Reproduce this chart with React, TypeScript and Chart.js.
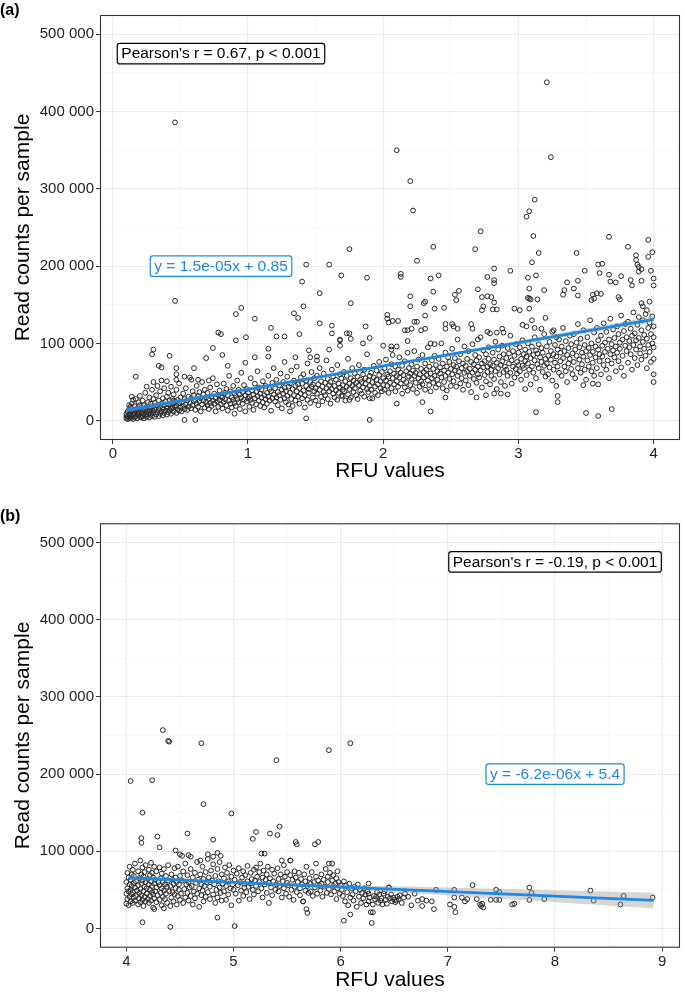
import React, { useEffect, useRef } from 'react';
import { Chart, registerables } from 'chart.js';
Chart.register(...registerables);

const FONT = '"Liberation Sans", Arial, Helvetica, sans-serif';
const BLUE = '#1E88E5';

type Pair = [number, number];

// ---------- Panel (a): RFU values (x) vs read counts per sample in thousands (y) ----------
const xMajorA = [0, 1, 2, 3, 4];
const xMinorA = [0.5, 1.5, 2.5, 3.5];
const yMajorK = [0, 100, 200, 300, 400, 500];
const yMinorK = [50, 150, 250, 350, 450];

const sparseA: Pair[] = [
  [0.46,386],[3.21,438],[2.10,350],[2.20,310],[2.22,272],[3.24,341],[3.12,286],[3.08,271],[3.06,264],[2.72,245],[3.11,239],[3.67,238],[3.96,234],[2.37,225],[3.81,225],[1.75,222],[2.68,222],[3.15,217],[3.43,217],[3.99,218],[3.96,212],[2.25,207],[3.10,205],[3.59,202],[3.62,203],[3.87,214],[3.87,208],[3.88,202],[3.89,199],[3.89,193],[3.91,196],[2.82,197],[2.94,194],[3.49,194],[3.98,194],[1.69,188],[1.88,185],[2.13,190],[2.13,186],[2.41,188],[2.35,184],[3.07,185],[3.13,188],[2.82,182],[2.82,178],[2.77,186],[3.60,191],[3.67,189],[3.68,180],[3.72,179],[3.76,187],[3.83,182],[3.84,175],[3.91,181],[4.00,184],[4.00,175],[3.36,179],[3.44,181],[3.41,171],[3.19,169],[3.08,171],[3.34,169],[3.33,163],[2.37,167],[2.53,163],[2.56,168],[2.54,156],[2.70,170],[2.77,161],[2.80,160],[2.73,160],[1.76,152],[2.20,161],[2.20,148],[3.44,162],[3.07,159],[3.08,158],[3.09,157],[3.14,157],[3.55,163],[3.58,165],[3.61,164],[3.54,156],[3.56,158],[3.74,160],[3.75,157],[3.97,154],[3.91,152],[3.92,148],[3.95,143],[2.31,154],[2.30,152],[2.38,145],[2.31,136],[2.45,146],[2.82,153],[2.81,144],[2.84,144],[2.74,148],[2.73,143],[2.97,145],[3.01,143],[3.08,145],[2.03,137],[2.03,132],[2.04,127],[2.07,129],[2.11,129],[1.87,122],[1.75,113],[1.76,106],[1.68,105],[1.90,107],[1.85,100],[2.16,117],[2.18,117],[2.21,119],[2.31,119],[2.18,103],[2.00,97],[2.06,96],[2.10,96],[2.06,92],[2.35,100],[2.38,99],[2.46,119],[2.46,125],[2.51,125],[2.52,122],[2.55,119],[2.25,128],[2.23,128],[2.28,117],[2.65,125],[2.66,119],[2.70,105],[2.77,115],[2.79,113],[2.84,114],[2.88,119],[2.89,114],[3.03,124],[3.06,122],[3.10,130],[3.12,120],[3.17,119],[3.20,133],[3.26,117],[3.28,108],
  [0.46,155],[0.91,138],[0.95,146],[1.05,132],[0.985,108],[0.91,104],[0.78,114],[0.80,112],[0.74,94],[0.81,85],[0.69,81],[0.30,92],[0.29,86],[0.42,84],[0.17,57],[0.34,71],[0.36,69],[0.47,68],[0.47,60],[0.47,53],[1.34,139],[1.37,133],[1.38,112],[1.43,202],[1.40,180],[1.41,148],[1.60,202],[1.53,165],[1.62,123],[1.62,113],[1.53,126],[1.68,104],[1.73,113],[1.17,120],[1.21,109],[1.27,109],[1.15,93],[1.15,83],[1.05,82],[1.35,82],[1.45,91],[1.60,92],[1.68,97],[1.27,76],[1.46,82],[1.51,83],[1.51,78],[0.98,75],[0.85,71],[0.60,68],[0.53,57],[0.58,53],[0.63,53],[0.71,52],[1.31,12],[1.43,3],[0.61,1],[0.53,1],[0.90,9],[0.43,16],[0.45,26],
  [1.90,1],[2.35,12],[3.13,11],[3.50,10],[3.59,6],[3.69,15],[3.29,32],[3.29,24],[2.10,22],[2.29,24],[2.46,30],[2.69,30],[2.76,33],[2.82,35],[2.87,35],[2.92,34],[3.05,41],[3.48,46],[3.55,48],[3.59,47],[4.00,50],[1.70,32],[1.75,27],[1.90,29]
];

const lowBandA: Pair[] = [
  [0.10,3],[0.10,6],[0.10,9],[0.11,2],[0.11,5],[0.11,12],[0.12,4],[0.12,8],[0.12,15],[0.13,3],[0.13,7],[0.13,10],[0.13,18],[0.14,5],[0.14,12],[0.14,22],[0.15,2],[0.15,8],[0.15,14],[0.16,4],[0.16,10],[0.16,19],[0.17,6],[0.17,13],[0.17,28],[0.18,3],[0.18,9],[0.18,16],[0.19,7],[0.19,11],[0.19,24],[0.20,5],[0.20,14],[0.20,20],[0.20,32],[0.14,31],[0.12,20],[0.15,27],
  [0.21,4],[0.21,10],[0.21,17],[0.22,6],[0.22,13],[0.22,26],[0.23,3],[0.23,9],[0.23,20],[0.24,7],[0.24,15],[0.24,36],[0.25,5],[0.25,11],[0.25,18],[0.25,44],[0.26,8],[0.26,14],[0.26,24],[0.27,4],[0.27,12],[0.27,30],[0.28,9],[0.28,17],[0.28,22],[0.29,6],[0.29,13],[0.29,40],[0.30,10],[0.30,19],[0.30,28],[0.30,50],
  [0.31,5],[0.31,14],[0.31,23],[0.32,8],[0.32,17],[0.32,33],[0.33,11],[0.33,20],[0.33,45],[0.34,6],[0.34,15],[0.34,26],[0.35,9],[0.35,18],[0.35,38],[0.36,12],[0.36,22],[0.36,52],[0.37,7],[0.37,16],[0.37,29],[0.38,10],[0.38,20],[0.38,42],[0.39,13],[0.39,25],[0.40,8],[0.40,17],[0.40,31],[0.40,51],
  [0.41,11],[0.41,21],[0.41,36],[0.42,14],[0.42,26],[0.43,9],[0.43,19],[0.43,44],[0.44,16],[0.44,28],[0.45,12],[0.45,22],[0.45,34],[0.46,18],[0.46,25],[0.47,10],[0.47,20],[0.47,40],[0.48,15],[0.48,27],[0.49,13],[0.49,23],[0.49,48],[0.50,17],[0.50,30],
  [0.51,12],[0.51,24],[0.52,19],[0.52,35],[0.53,15],[0.53,28],[0.54,21],[0.54,42],[0.55,14],[0.55,26],[0.56,18],[0.56,31],[0.57,23],[0.57,56],[0.58,16],[0.58,29],[0.59,20],[0.59,38],[0.60,25],[0.60,33],
  [0.61,14],[0.61,27],[0.62,22],[0.62,45],[0.63,18],[0.63,32],[0.64,25],[0.64,37],[0.65,12],[0.65,29],[0.66,21],[0.66,50],[0.67,26],[0.67,34],[0.68,17],[0.68,40],[0.69,24],[0.69,30],[0.70,20],[0.70,36],
  [0.71,15],[0.71,28],[0.72,23],[0.72,43],[0.73,31],[0.73,19],[0.74,26],[0.74,55],[0.75,22],[0.75,35],[0.76,12],[0.76,29],[0.77,25],[0.77,47],[0.78,18],[0.78,33],[0.79,27],[0.79,39],[0.80,21],[0.80,31],
  [0.81,16],[0.81,30],[0.82,24],[0.82,48],[0.83,28],[0.83,36],[0.84,20],[0.84,41],[0.85,13],[0.85,33],[0.86,26],[0.86,58],[0.87,22],[0.87,38],[0.88,30],[0.88,17],[0.89,27],[0.89,45],[0.90,23],[0.90,35],
  [0.91,19],[0.91,32],[0.92,28],[0.92,52],[0.93,24],[0.93,40],[0.94,15],[0.94,34],[0.95,30],[0.95,62],[0.96,22],[0.96,37],[0.97,27],[0.97,46],[0.98,33],[0.98,12],[0.99,25],[0.99,41],[1.00,29],[1.00,36]
];

const midBandA: Pair[] = [
  [1.01,18],[1.01,31],[1.02,27],[1.02,55],[1.03,23],[1.03,39],[1.04,34],[1.04,14],[1.05,29],[1.05,48],[1.06,21],[1.06,37],[1.07,32],[1.07,64],[1.08,26],[1.08,43],[1.09,35],[1.09,19],[1.10,30],[1.10,40],
  [1.11,24],[1.11,51],[1.12,33],[1.12,17],[1.13,28],[1.13,45],[1.14,36],[1.14,22],[1.15,31],[1.15,58],[1.16,26],[1.16,41],[1.17,38],[1.17,13],[1.18,29],[1.18,49],[1.19,34],[1.19,68],[1.20,25],[1.20,42],
  [1.21,30],[1.21,53],[1.22,37],[1.22,20],[1.23,33],[1.23,46],[1.24,27],[1.24,61],[1.25,40],[1.25,16],[1.26,35],[1.26,50],[1.27,29],[1.27,43],[1.28,38],[1.28,24],[1.29,32],[1.29,57],[1.30,44],[1.30,21],
  [1.31,36],[1.31,48],[1.32,28],[1.32,65],[1.33,41],[1.33,19],[1.34,33],[1.34,52],[1.35,45],[1.35,26],[1.36,38],[1.36,70],[1.37,31],[1.37,47],[1.38,42],[1.38,22],[1.39,35],[1.39,56],[1.40,48],[1.40,29],
  [1.41,39],[1.41,60],[1.42,33],[1.42,17],[1.43,45],[1.43,52],[1.44,27],[1.44,74],[1.45,41],[1.45,36],[1.46,50],[1.46,23],[1.47,44],[1.47,63],[1.48,30],[1.48,47],[1.49,38],[1.49,55],[1.50,42],[1.50,26],
  [1.51,35],[1.51,58],[1.52,47],[1.52,20],[1.53,40],[1.53,68],[1.54,31],[1.54,51],[1.55,44],[1.55,25],[1.56,37],[1.56,61],[1.57,49],[1.57,33],[1.58,42],[1.58,78],[1.59,28],[1.59,54],[1.60,46],[1.60,38],
  [1.61,50],[1.61,22],[1.62,41],[1.62,66],[1.63,35],[1.63,57],[1.64,45],[1.64,30],[1.65,53],[1.65,39],[1.66,27],[1.66,72],[1.67,48],[1.67,36],[1.68,43],[1.68,60],[1.69,32],[1.69,55],[1.70,46],[1.70,40],
  [1.71,38],[1.71,63],[1.72,51],[1.72,26],[1.73,44],[1.73,58],[1.74,34],[1.74,80],[1.75,48],[1.75,41],[1.76,55],[1.76,30],[1.77,45],[1.77,68],[1.78,37],[1.78,52],[1.79,42],[1.79,61],[1.80,49],[1.80,33],
  [1.81,57],[1.81,28],[1.82,46],[1.82,72],[1.83,39],[1.83,53],[1.84,50],[1.84,35],[1.85,60],[1.85,43],[1.86,31],[1.86,66],[1.87,48],[1.87,55],[1.88,41],[1.88,86],[1.89,52],[1.89,37],[1.90,45],[1.90,58],
  [1.91,62],[1.91,40],[1.92,50],[1.92,29],[1.93,56],[1.93,71],[1.94,44],[1.94,36],[1.95,53],[1.95,65],[1.96,47],[1.96,33],[1.97,59],[1.97,76],[1.98,42],[1.98,51],[1.99,38],[1.99,63],[2.00,55],[2.00,46]
];

const highBandA: Pair[] = [
  [2.01,68],[2.01,40],[2.02,52],[2.02,79],[2.03,45],[2.03,60],[2.04,36],[2.04,57],[2.05,64],[2.05,49],[2.06,73],[2.06,42],[2.07,55],[2.07,85],[2.08,47],[2.08,61],[2.09,38],[2.09,70],[2.10,58],[2.10,51],
  [2.11,44],[2.11,66],[2.12,56],[2.12,82],[2.13,48],[2.13,62],[2.14,35],[2.14,71],[2.15,53],[2.15,59],[2.16,77],[2.16,43],[2.17,64],[2.17,50],[2.18,39],[2.18,88],[2.19,57],[2.19,68],[2.20,46],[2.20,61],
  [2.21,73],[2.21,54],[2.22,41],[2.22,65],[2.23,58],[2.23,90],[2.24,49],[2.24,62],[2.25,36],[2.25,70],[2.26,55],[2.26,79],[2.27,44],[2.27,60],[2.28,67],[2.28,51],[2.29,85],[2.29,47],[2.30,63],[2.30,56],
  [2.31,40],[2.31,74],[2.32,59],[2.32,66],[2.33,52],[2.33,95],[2.34,46],[2.34,70],[2.35,61],[2.35,38],[2.36,78],[2.36,55],[2.37,49],[2.37,67],[2.38,84],[2.38,58],[2.39,43],[2.39,72],[2.40,64],[2.40,53],
  [2.41,47],[2.41,80],[2.42,61],[2.42,69],[2.43,56],[2.43,100],[2.44,42],[2.44,74],[2.45,65],[2.45,50],[2.46,88],[2.46,58],[2.47,70],[2.47,39],[2.48,62],[2.48,82],[2.49,54],[2.49,76],[2.50,45],[2.50,67],
  [2.51,60],[2.51,93],[2.52,72],[2.52,51],[2.53,65],[2.53,81],[2.54,44],[2.54,70],[2.55,58],[2.55,105],[2.56,77],[2.56,63],[2.57,48],[2.57,86],[2.58,68],[2.58,55],[2.59,74],[2.59,40],[2.60,62],[2.60,96],
  [2.61,71],[2.61,52],[2.62,80],[2.62,64],[2.63,46],[2.63,90],[2.64,67],[2.64,58],[2.65,76],[2.65,37],[2.66,62],[2.66,99],[2.67,54],[2.67,73],[2.68,85],[2.68,66],[2.69,49],[2.69,78],[2.70,60],[2.70,70],
  [2.71,82],[2.71,56],[2.72,65],[2.72,108],[2.73,74],[2.73,43],[2.74,69],[2.74,91],[2.75,59],[2.75,77],[2.76,51],[2.76,86],[2.77,70],[2.77,63],[2.78,95],[2.78,80],[2.79,47],[2.79,73],[2.80,66],[2.80,58],
  [2.81,88],[2.81,71],[2.82,54],[2.82,79],[2.83,64],[2.83,102],[2.84,75],[2.84,41],[2.85,68],[2.85,92],[2.86,60],[2.86,83],[2.87,72],[2.87,50],[2.88,97],[2.88,77],[2.89,63],[2.89,86],[2.90,70],[2.90,45],
  [2.91,81],[2.91,66],[2.92,58],[2.92,94],[2.93,74],[2.93,87],[2.94,62],[2.94,110],[2.95,78],[2.95,48],[2.96,70],[2.96,90],[2.97,84],[2.97,56],[2.98,67],[2.98,99],[2.99,76],[2.99,61],[3.00,88],[3.00,72]
];

const topBandA: Pair[] = [
  [3.01,64],[3.01,95],[3.02,80],[3.02,53],[3.03,71],[3.03,104],[3.04,86],[3.04,68],[3.05,77],[3.05,92],[3.06,59],[3.06,83],[3.07,100],[3.07,74],[3.08,66],[3.08,89],[3.09,47],[3.09,81],[3.10,96],[3.10,70],
  [3.11,85],[3.11,62],[3.12,78],[3.12,108],[3.13,91],[3.13,55],[3.14,73],[3.14,87],[3.15,68],[3.15,99],[3.16,82],[3.16,40],[3.17,94],[3.17,76],[3.18,63],[3.18,88],[3.19,71],[3.19,112],[3.20,80],[3.20,57],
  [3.21,96],[3.21,74],[3.22,84],[3.22,60],[3.23,102],[3.23,69],[3.24,90],[3.24,79],[3.25,52],[3.25,115],[3.26,86],[3.26,66],[3.27,75],[3.27,98],[3.28,83],[3.28,45],[3.29,92],[3.29,70],[3.30,105],[3.30,62],
  [3.31,88],[3.31,77],[3.32,58],[3.32,96],[3.33,81],[3.33,120],[3.34,70],[3.34,90],[3.35,64],[3.35,103],[3.36,85],[3.36,50],[3.37,94],[3.37,74],[3.38,110],[3.38,80],[3.39,67],[3.39,99],[3.40,87],[3.40,60],
  [3.41,76],[3.41,112],[3.42,92],[3.42,55],[3.43,84],[3.43,101],[3.44,68],[3.44,125],[3.45,95],[3.45,79],[3.46,62],[3.46,106],[3.47,88],[3.47,73],[3.48,117],[3.48,83],[3.49,66],[3.49,98],[3.50,90],[3.50,53],
  [3.51,78],[3.51,108],[3.52,94],[3.52,70],[3.53,85],[3.53,130],[3.54,64],[3.54,100],[3.55,89],[3.55,75],[3.56,114],[3.56,58],[3.57,96],[3.57,82],[3.58,68],[3.58,120],[3.59,92],[3.59,104],[3.60,77],[3.60,86],
  [3.61,110],[3.61,60],[3.62,97],[3.62,83],[3.63,72],[3.63,126],[3.64,101],[3.64,89],[3.65,66],[3.65,115],[3.66,93],[3.66,78],[3.67,105],[3.67,55],[3.68,86],[3.68,132],[3.69,99],[3.69,74],[3.70,118],[3.70,91],
  [3.71,82],[3.71,107],[3.72,96],[3.72,64],[3.73,122],[3.73,88],[3.74,77],[3.74,112],[3.75,101],[3.75,93],[3.76,69],[3.76,136],[3.77,105],[3.77,84],[3.78,116],[3.78,58],[3.79,97],[3.79,125],[3.80,90],[3.80,108],
  [3.81,75],[3.81,128],[3.82,103],[3.82,95],[3.83,86],[3.83,119],[3.84,110],[3.84,66],[3.85,98],[3.85,140],[3.86,81],[3.86,113],[3.87,104],[3.87,92],[3.88,124],[3.88,72],[3.89,107],[3.89,134],[3.90,96],[3.90,87],
  [3.91,117],[3.91,79],[3.92,102],[3.92,130],[3.93,93],[3.93,111],[3.94,84],[3.94,138],[3.95,106],[3.95,68],[3.96,120],[3.96,98],[3.97,89],[3.97,127],[3.98,112],[3.98,76],[3.99,100],[3.99,135],[4.00,95],[4.00,122],[4.00,60],[4.00,80],[4.00,108]
];

// fitted line (a) and its confidence band
const fitXA = [0.1, 4.0];
const fitYA = [13.8, 131.0];
const ciXA = [0.1, 1, 2, 3, 4.0];
const ciLoA = [10.5, 38.8, 69.3, 98.4, 127.0];
const ciHiA = [17.1, 42.8, 72.5, 103.4, 135.0];

// ---------- Panel (b) ----------
const xMajorB = [4, 5, 6, 7, 8, 9];
const xMinorB = [4.5, 5.5, 6.5, 7.5, 8.5];

const sparseB: Pair[] = [
  [4.34,257],[4.39,243],[4.40,242],[4.70,240],[5.40,218],[5.89,231],[6.09,240],[4.04,191],[4.24,192],[4.15,150],[4.72,161],[4.98,149],[4.14,117],[4.14,111],[4.29,119],[4.31,105],[4.57,123],[4.81,115],[4.46,101],[4.50,96],[4.52,94],[4.58,95],[4.60,93],[4.69,88],[4.76,96],[4.81,93],[4.85,98],[4.88,94],[5.18,116],[5.21,125],[5.34,123],[5.41,121],[5.43,132],[5.26,97],[5.29,97],[5.58,112],[5.59,109],[5.76,109],[5.79,112],[5.53,88],[5.45,88],[5.89,84],[5.92,84],[5.97,74],[4.15,8],[4.41,2],[4.85,14],[5.01,3],[5.68,25],[5.69,20],[6.03,10],[6.09,18],[5.65,35],[6.26,58],[6.45,53],[4.26,25],
  [7.23,56],[7.76,53],[7.78,46],[8.33,49],[8.64,42],[8.91,40],[8.61,31],[8.36,36],[7.90,38],[7.76,37],[7.45,50],[7.48,47],[7.45,37],[7.48,37],[7.40,37],[7.60,31],[7.62,32],[7.06,50],[7.06,40],[7.06,28],[7.07,21],[7.02,31],[7.13,40],[7.16,35],[7.18,38],[7.27,38],[7.30,31],[7.31,29],[7.33,27],[7.32,32]
];

const denseB: Pair[] = [
  [4.00,32],[4.00,45],[4.00,60],[4.01,38],[4.01,52],[4.01,72],[4.02,30],[4.02,48],[4.02,66],[4.03,41],[4.03,57],[4.03,80],[4.04,35],[4.04,50],[4.04,63],[4.05,44],[4.05,70],[4.05,55],[4.06,33],[4.06,47],[4.06,76],[4.07,40],[4.07,59],[4.07,68],[4.08,36],[4.08,53],[4.08,84],[4.09,42],[4.09,61],[4.10,49],
  [4.11,31],[4.11,56],[4.11,74],[4.12,39],[4.12,46],[4.12,65],[4.13,34],[4.13,51],[4.13,88],[4.14,43],[4.14,58],[4.14,70],[4.15,37],[4.15,62],[4.15,79],[4.16,29],[4.16,48],[4.16,67],[4.17,41],[4.17,54],[4.17,73],[4.18,35],[4.18,60],[4.18,82],[4.19,45],[4.19,52],[4.20,38],[4.20,64],
  [4.21,33],[4.21,57],[4.21,76],[4.22,42],[4.22,50],[4.22,69],[4.23,36],[4.23,61],[4.23,85],[4.24,47],[4.24,55],[4.24,72],[4.25,27],[4.25,44],[4.25,66],[4.26,39],[4.26,58],[4.26,80],[4.27,48],[4.27,63],[4.28,34],[4.28,53],[4.28,74],[4.29,43],[4.30,60],
  [4.31,37],[4.31,56],[4.31,79],[4.32,46],[4.32,65],[4.33,30],[4.33,52],[4.33,71],[4.34,41],[4.34,60],[4.35,26],[4.35,49],[4.35,77],[4.36,38],[4.36,57],[4.37,45],[4.37,68],[4.38,33],[4.38,54],[4.39,62],[4.39,82],[4.40,48],
  [4.41,29],[4.41,55],[4.42,40],[4.42,70],[4.43,47],[4.43,63],[4.44,35],[4.44,58],[4.45,78],[4.45,44],[4.46,52],[4.46,66],[4.47,31],[4.47,60],[4.48,42],[4.48,80],[4.49,50],[4.49,57],[4.50,37],[4.50,68],
  [4.51,45],[4.52,62],[4.53,33],[4.53,74],[4.54,51],[4.55,40],[4.55,84],[4.56,57],[4.57,46],[4.57,69],[4.58,36],[4.58,60],[4.59,53],[4.60,42],[4.60,77],
  [4.61,55],[4.62,31],[4.62,66],[4.63,48],[4.64,72],[4.64,39],[4.65,59],[4.66,86],[4.66,45],[4.67,63],[4.68,28],[4.68,52],[4.69,70],[4.70,43],[4.70,57],
  [4.71,80],[4.71,49],[4.72,35],[4.72,64],[4.73,55],[4.74,73],[4.74,41],[4.75,60],[4.76,90],[4.76,47],[4.77,66],[4.78,38],[4.78,54],[4.79,75],[4.80,62],
  [4.81,44],[4.81,83],[4.82,57],[4.83,33],[4.83,68],[4.84,50],[4.85,77],[4.85,40],[4.86,61],[4.87,53],[4.87,86],[4.88,46],[4.89,70],[4.89,36],[4.90,58],
  [4.91,65],[4.91,48],[4.92,79],[4.93,55],[4.93,37],[4.94,72],[4.95,61],[4.95,44],[4.96,82],[4.97,52],[4.98,67],[4.98,30],[4.99,57],[5.00,75],[5.00,50]
];

const tailB: Pair[] = [
  [5.01,63],[5.02,45],[5.03,71],[5.04,56],[5.05,36],[5.05,78],[5.06,60],[5.07,49],[5.08,66],[5.09,74],[5.09,42],[5.10,58],[5.10,53],
  [5.11,69],[5.12,47],[5.13,61],[5.13,81],[5.14,54],[5.15,38],[5.16,72],[5.16,58],[5.17,64],[5.18,50],[5.19,76],[5.19,44],[5.20,62],
  [5.21,55],[5.21,79],[5.22,67],[5.23,48],[5.24,73],[5.24,60],[5.25,84],[5.26,52],[5.27,66],[5.27,40],[5.28,75],[5.29,57],[5.30,63],
  [5.31,70],[5.31,46],[5.32,80],[5.33,59],[5.33,33],[5.34,65],[5.35,53],[5.36,76],[5.36,43],[5.37,61],[5.38,71],[5.39,50],[5.40,57],
  [5.41,78],[5.42,48],[5.42,64],[5.43,55],[5.44,70],[5.45,40],[5.46,61],[5.47,82],[5.47,52],[5.48,67],[5.49,45],[5.50,59],[5.50,73],
  [5.51,56],[5.52,41],[5.53,69],[5.53,88],[5.54,50],[5.55,63],[5.56,37],[5.57,74],[5.57,54],[5.58,66],[5.59,47],[5.60,60],
  [5.61,72],[5.62,52],[5.62,43],[5.63,64],[5.64,57],[5.65,35],[5.66,70],[5.67,49],[5.67,61],[5.68,80],[5.69,55],[5.70,46],
  [5.71,65],[5.72,48],[5.72,58],[5.73,73],[5.74,42],[5.75,60],[5.76,53],[5.77,67],[5.77,84],[5.78,45],[5.79,62],[5.80,56],
  [5.81,49],[5.82,70],[5.82,58],[5.83,41],[5.84,63],[5.85,54],[5.86,77],[5.87,46],[5.88,60],[5.88,67],[5.89,51],[5.90,72],
  [5.91,44],[5.92,62],[5.93,55],[5.93,69],[5.94,48],[5.95,58],[5.96,38],[5.96,65],[5.97,52],[5.98,60],[5.99,45],[6.00,56],
  [6.01,50],[6.02,42],[6.03,61],[6.04,35],[6.05,55],[6.06,47],[6.07,30],[6.08,58],[6.09,40],[6.10,52],
  [6.11,44],[6.12,36],[6.13,54],[6.14,48],[6.15,28],[6.16,57],[6.17,41],[6.18,50],[6.19,33],[6.20,46],
  [6.21,39],[6.22,52],[6.23,44],[6.24,31],[6.25,48],[6.26,45],[6.26,35],[6.27,40],[6.28,21],[6.29,7],[6.30,31],[6.30,21],
  [6.31,42],[6.32,38],[6.33,41],[6.34,47],[6.35,33],[6.36,44],[6.37,36],[6.38,39],[6.39,31],[6.40,45],
  [6.41,48],[6.42,37],[6.43,32],[6.44,41],[6.45,53],[6.46,39],[6.47,44],[6.48,35],[6.49,40],[6.50,37],
  [6.51,34],[6.52,36],[6.53,41],[6.54,38],[6.55,43],[6.57,33],[6.59,40],[6.60,45],
  [6.63,41],[6.66,30],[6.69,45],[6.72,36],[6.76,38],[6.76,29],[6.80,36],[6.85,35],[6.87,25],[6.89,50]
];

const fitXB = [4.02, 8.92];
const fitYB = [65.6, 36.2];
const ciXB = [4.02, 5, 6, 7, 8, 8.92];
const ciLoB = [62.3, 57.8, 51.0, 42.5, 34.0, 26.0];
const ciHiB = [68.8, 61.8, 56.5, 53.0, 49.5, 46.3];

// ---------- helpers ----------
const pts = (pairs: Pair[]) => pairs.map(([x, y]) => ({ x, y }));
const zip = (xs: number[], ys: number[]) => xs.map((x, i) => ({ x, y: ys[i] }));
const fmtK = (v: number) => (v === 0 ? '0' : `${v} 000`);

type Label = { x: number; y: number; text: string; color: string };

const annotPlugin = {
  id: 'annot',
  afterDatasetsDraw(chart: any, _args: any, opts: any) {
    const { ctx, chartArea, scales } = chart;
    ctx.save();
    ctx.strokeStyle = '#333333';
    ctx.lineWidth = 1.1;
    ctx.strokeRect(chartArea.left + 0.5, chartArea.top + 0.5, chartArea.right - chartArea.left - 1, chartArea.bottom - chartArea.top - 1);
    const labels: Label[] = opts.labels || [];
    for (const lab of labels) {
      const cx = scales.x.getPixelForValue(lab.x);
      const cy = scales.y.getPixelForValue(lab.y);
      const fs = 15.5;
      ctx.font = `${fs}px ${FONT}`;
      const tw = ctx.measureText(lab.text).width;
      const w = tw + 8;
      const h = 20.5;
      const x0 = cx - w / 2;
      const y0 = cy - h / 2;
      const r = 2.5;
      ctx.beginPath();
      ctx.moveTo(x0 + r, y0);
      ctx.lineTo(x0 + w - r, y0);
      ctx.arcTo(x0 + w, y0, x0 + w, y0 + r, r);
      ctx.lineTo(x0 + w, y0 + h - r);
      ctx.arcTo(x0 + w, y0 + h, x0 + w - r, y0 + h, r);
      ctx.lineTo(x0 + r, y0 + h);
      ctx.arcTo(x0, y0 + h, x0, y0 + h - r, r);
      ctx.lineTo(x0, y0 + r);
      ctx.arcTo(x0, y0, x0 + r, y0, r);
      ctx.closePath();
      ctx.fillStyle = '#ffffff';
      ctx.fill();
      ctx.lineWidth = 1.2;
      ctx.strokeStyle = lab.color;
      ctx.stroke();
      ctx.fillStyle = lab.color;
      ctx.textAlign = 'center';
      ctx.textBaseline = 'middle';
      ctx.fillText(lab.text, cx, cy + 0.5);
    }
    ctx.restore();
  },
};

type PanelSpec = {
  points: Pair[];
  fitX: number[]; fitY: number[];
  ciX: number[]; ciLo: number[]; ciHi: number[];
  xMajor: number[]; xMinor: number[];
  xMin: number; xMax: number;
  padTop: number; xAxisHeight: number; titleBottom: number;
  labels: Label[];
};

function makeConfig(s: PanelSpec): any {
  const xTicks = [...s.xMajor, ...s.xMinor].sort((a, b) => a - b);
  const yTicks = [...yMajorK, ...yMinorK].sort((a, b) => a - b);
  const isMajorX = (v: number) => s.xMajor.includes(v);
  const isMajorY = (v: number) => yMajorK.includes(v);
  const gridFor = (isMajor: (v: number) => boolean) => ({
    drawTicks: true,
    tickLength: 4,
    color: (c: any) => (c.tick && isMajor(c.tick.value) ? '#EBEBEB' : '#F4F4F4'),
    lineWidth: (c: any) => (c.tick && isMajor(c.tick.value) ? 1.1 : 0.7),
    tickColor: (c: any) => (c.tick && isMajor(c.tick.value) ? '#333333' : 'rgba(0,0,0,0)'),
    tickWidth: 1,
  });
  return {
    type: 'line',
    data: {
      datasets: [
        { data: zip(s.fitX, s.fitY), borderColor: BLUE, borderWidth: 2.8, pointRadius: 0, fill: false, order: 0, tension: 0 },
        { data: zip(s.ciX, s.ciHi), borderColor: 'rgba(0,0,0,0)', borderWidth: 1, pointRadius: 0, backgroundColor: 'rgba(153,153,153,0.4)', fill: '+1', order: 1, tension: 0.4 },
        { data: zip(s.ciX, s.ciLo), borderColor: 'rgba(0,0,0,0)', borderWidth: 1, pointRadius: 0, fill: false, order: 1, tension: 0.4 },
        { data: pts(s.points), showLine: false, pointRadius: 2.4, pointBorderWidth: 1, pointBorderColor: '#262626', pointBackgroundColor: 'rgba(0,0,0,0)', order: 2 },
      ],
    },
    options: {
      responsive: false,
      animation: false,
      events: [],
      layout: { padding: { top: s.padTop, right: 2, bottom: 0, left: 0 } },
      font: { family: FONT },
      plugins: { legend: { display: false }, tooltip: { enabled: false }, annot: { labels: s.labels } },
      scales: {
        x: {
          type: 'linear', min: s.xMin, max: s.xMax,
          afterBuildTicks: (axis: any) => { axis.ticks = xTicks.map((v) => ({ value: v })); },
          afterFit: (axis: any) => { axis.height = s.xAxisHeight; },
          ticks: {
            autoSkip: false, maxRotation: 0, padding: 1, color: '#1f1f1f',
            font: { family: FONT, size: 15 },
            callback: (v: number) => (isMajorX(v) ? String(v) : ''),
          },
          grid: gridFor(isMajorX),
          border: { display: false },
          title: { display: true, text: 'RFU values', color: '#000000', font: { family: FONT, size: 21 }, padding: { top: 0, bottom: s.titleBottom } },
        },
        y: {
          type: 'linear', min: -25, max: 525,
          afterBuildTicks: (axis: any) => { axis.ticks = yTicks.map((v) => ({ value: v })); },
          afterFit: (axis: any) => { axis.width = 100; },
          ticks: {
            autoSkip: false, padding: 2, color: '#1f1f1f',
            font: { family: FONT, size: 15 },
            callback: (v: number) => (isMajorY(v) ? fmtK(v) : ''),
          },
          grid: gridFor(isMajorY),
          border: { display: false },
          title: { display: true, text: 'Read counts per sample', color: '#000000', font: { family: FONT, size: 21 }, padding: { top: 11, bottom: 0 } },
        },
      },
    },
    plugins: [annotPlugin],
  };
}

const panelA: PanelSpec = {
  points: [...sparseA, ...lowBandA, ...midBandA, ...highBandA, ...topBandA],
  fitX: fitXA, fitY: fitYA, ciX: ciXA, ciLo: ciLoA, ciHi: ciHiA,
  xMajor: xMajorA, xMinor: xMinorA, xMin: -0.095, xMax: 4.195,
  padTop: 15, xAxisHeight: 50, titleBottom: 6,
  labels: [
    { x: 0.8, y: 475, text: "Pearson's r = 0.67, p < 0.001", color: '#000000' },
    { x: 0.8, y: 200, text: 'y = 1.5e-05x + 0.85', color: BLUE },
  ],
};

const panelB: PanelSpec = {
  points: [...sparseB, ...denseB, ...tailB],
  fitX: fitXB, fitY: fitYB, ciX: ciXB, ciLo: ciLoB, ciHi: ciHiB,
  xMajor: xMajorB, xMinor: xMinorB, xMin: 3.754, xMax: 9.166,
  padTop: 33.3, xAxisHeight: 47.3, titleBottom: 2.4,
  labels: [
    { x: 8.0, y: 475, text: "Pearson's r = -0.19, p < 0.001", color: '#000000' },
    { x: 8.0, y: 200, text: 'y = -6.2e-06x + 5.4', color: BLUE },
  ],
};

function Panel({ spec, height, top }: { spec: PanelSpec; height: number; top: number }) {
  const ref = useRef<HTMLCanvasElement>(null);
  useEffect(() => {
    if (!ref.current) return;
    const chart = new Chart(ref.current, makeConfig(spec));
    return () => chart.destroy();
  }, [spec]);
  return (
    <canvas
      ref={ref}
      width={685}
      height={height}
      style={{ position: 'absolute', left: 0, top, width: 685, height, display: 'block' }}
    />
  );
}

export default function App() {
  const tag: React.CSSProperties = { position: 'absolute', left: 0, fontFamily: FONT, fontWeight: 'bold', fontSize: 16, lineHeight: '18px', color: '#000' };
  return (
    <div style={{ position: 'fixed', left: 0, top: 0, width: 685, height: 995, background: '#ffffff', overflow: 'hidden' }}>
      <Panel spec={panelA} height={490} top={0} />
      <Panel spec={panelB} height={505} top={490} />
      <div style={{ ...tag, top: 1 }}>(a)</div>
      <div style={{ ...tag, top: 507 }}>(b)</div>
    </div>
  );
}
